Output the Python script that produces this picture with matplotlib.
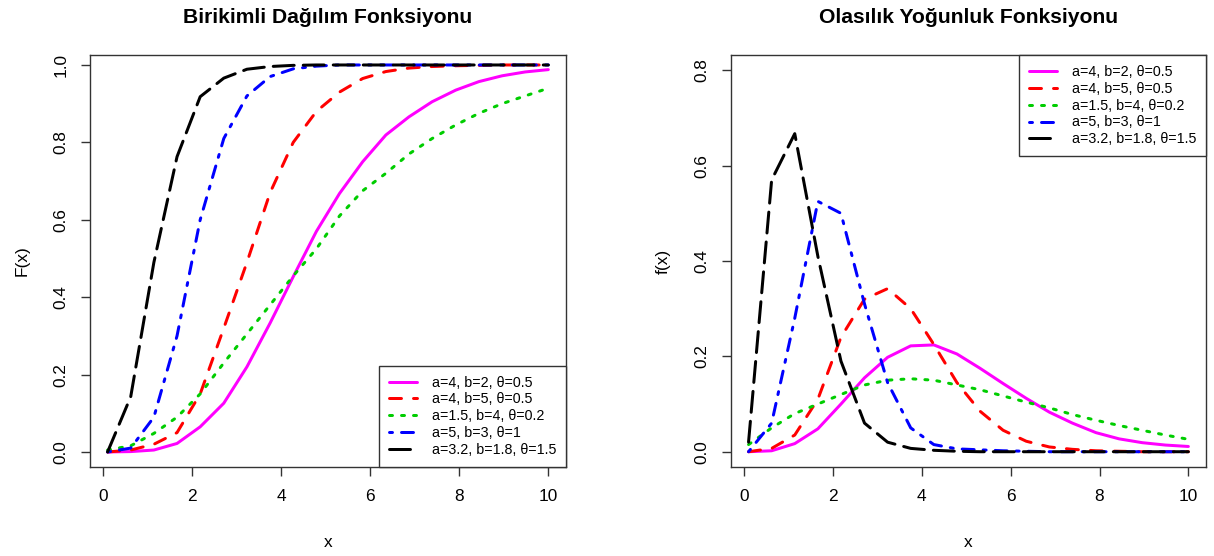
import numpy as np
import matplotlib.pyplot as plt

plt.rcParams['font.family'] = ['Liberation Sans', 'DejaVu Sans']

# grid of x values (20 points from 0.1 to 10)
x = [0.10, 0.62, 1.14, 1.66, 2.18, 2.71, 3.23, 3.75, 4.27, 4.79,
     5.31, 5.83, 6.35, 6.87, 7.39, 7.92, 8.44, 8.96, 9.48, 10.00]

labels = ["a=4, b=2, θ=0.5", "a=4, b=5, θ=0.5", "a=1.5, b=4, θ=0.2",
          "a=5, b=3, θ=1", "a=3.2, b=1.8, θ=1.5"]
colors = ["#FF00FF", "#FF0000", "#00CD00", "#0000FF", "#000000"]
dashes = [None, (4, 4), (1, 3), (1, 3, 4, 3), (7, 3)]

# cumulative distribution values
cdf_1 = [0.0, 0.001, 0.005, 0.022, 0.065, 0.126, 0.22, 0.333, 0.453, 0.57,
         0.668, 0.75, 0.819, 0.866, 0.905, 0.935, 0.957, 0.972, 0.982, 0.988]
cdf_2 = [0.0, 0.005, 0.02, 0.05, 0.15, 0.32, 0.49, 0.67, 0.80, 0.88,
         0.93, 0.965, 0.983, 0.992, 0.996, 0.998, 0.999, 1.0, 1.0, 1.0]
cdf_3 = [0.005, 0.016, 0.048, 0.09, 0.15, 0.23, 0.305, 0.38, 0.455, 0.525,
         0.61, 0.675, 0.72, 0.77, 0.81, 0.845, 0.875, 0.90, 0.92, 0.94]
cdf_4 = [0.0, 0.01, 0.09, 0.30, 0.60, 0.81, 0.92, 0.97, 0.99, 0.997,
         1.0, 1.0, 1.0, 1.0, 1.0, 1.0, 1.0, 1.0, 1.0, 1.0]
cdf_5 = [0.0, 0.143, 0.49, 0.763, 0.918, 0.966, 0.989, 0.996, 0.999, 1.0,
         1.0, 1.0, 1.0, 1.0, 1.0, 1.0, 1.0, 1.0, 1.0, 1.0]

# density values
pdf_1 = [0.0, 0.002, 0.017, 0.048, 0.10, 0.155, 0.198, 0.222, 0.224, 0.205,
         0.175, 0.143, 0.112, 0.083, 0.06, 0.040, 0.027, 0.019, 0.014, 0.011]
pdf_2 = [0.0, 0.007, 0.035, 0.11, 0.24, 0.32, 0.342, 0.30, 0.225, 0.145,
         0.085, 0.045, 0.022, 0.01, 0.005, 0.002, 0.001, 0.0, 0.0, 0.0]
pdf_3 = [0.015, 0.05, 0.08, 0.10, 0.12, 0.14, 0.15, 0.153, 0.15, 0.14,
         0.13, 0.117, 0.104, 0.092, 0.078, 0.066, 0.055, 0.045, 0.035, 0.026]
pdf_4 = [0.0, 0.06, 0.28, 0.525, 0.50, 0.31, 0.145, 0.05, 0.015, 0.006,
         0.004, 0.002, 0.001, 0.0, 0.0, 0.0, 0.0, 0.0, 0.0, 0.0]
pdf_5 = [0.02, 0.57, 0.667, 0.41, 0.19, 0.06, 0.02, 0.007, 0.003, 0.001,
         0.0, 0.0, 0.0, 0.0, 0.0, 0.0, 0.0, 0.0, 0.0, 0.0]

cdfs = [cdf_1, cdf_2, cdf_3, cdf_4, cdf_5]
pdfs = [pdf_1, pdf_2, pdf_3, pdf_4, pdf_5]

fig = plt.figure(figsize=(12.14, 5.56), dpi=100)
ax1 = fig.add_axes([0.0741, 0.1601, 0.3921, 0.741])
ax2 = fig.add_axes([0.6021, 0.1601, 0.3913, 0.741])


def draw(ax, series, title, ylab, ylim, yticks, loc):
    for y, c, d, lab in zip(series, colors, dashes, labels):
        line, = ax.plot(x, y, color=c, lw=2.16, label=lab,
                        solid_capstyle='round', dash_capstyle='round')
        if d is not None:
            line.set_dashes(d)
    ax.set_xlim(-0.296, 10.396)
    ax.set_ylim(*ylim)
    ax.set_xticks([0, 2, 4, 6, 8, 10])
    ax.set_yticks(yticks)
    ax.set_yticklabels([f"{t:.1f}" for t in yticks], rotation=90, va='center')
    ax.tick_params(length=6.5, width=1, pad=9, labelsize=12.4, color='#333333')
    for s in ax.spines.values():
        s.set_color('#333333')
        s.set_linewidth(1)
    ax.set_xlabel("x", fontsize=12.4, va='center')
    ax.set_ylabel(ylab, fontsize=12.4, va='center')
    ax.xaxis.set_label_coords(0.5, -0.184)
    ax.yaxis.set_label_coords(-0.143, 0.5)
    ax.text(0.5, 1.078, title, transform=ax.transAxes, ha='center',
            va='baseline', fontsize=15.2, fontweight='bold')
    leg = ax.legend(loc=loc, borderaxespad=0, fancybox=False, framealpha=1,
                    edgecolor='#333333', fontsize=10.25, handlelength=2.0,
                    handletextpad=1.0, labelspacing=0.2, borderpad=0.7)
    leg.get_frame().set_linewidth(1)


draw(ax1, cdfs, "Birikimli Dağılım Fonksiyonu", "F(x)", (-0.0388, 1.0258),
     [0.0, 0.2, 0.4, 0.6, 0.8, 1.0], 'lower right')
draw(ax2, pdfs, "Olasılık Yoğunluk Fonksiyonu", "f(x)", (-0.032, 0.832),
     [0.0, 0.2, 0.4, 0.6, 0.8], 'upper right')

fig.savefig("out.png", dpi=100)
